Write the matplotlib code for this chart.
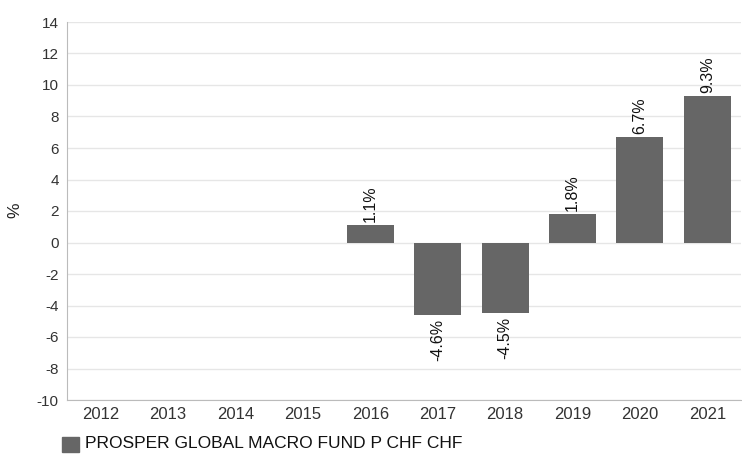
import matplotlib.pyplot as plt
import numpy as np

plt.rcParams['font.family'] = ['Liberation Sans', 'DejaVu Sans']
plt.rcParams['axes.unicode_minus'] = False

years = ['2012', '2013', '2014', '2015', '2016', '2017', '2018', '2019', '2020', '2021']
returns = [np.nan, np.nan, np.nan, np.nan, 1.1, -4.6, -4.5, 1.8, 6.7, 9.3]
series_name = 'PROSPER GLOBAL MACRO FUND P CHF CHF'

fig = plt.figure(figsize=(7.42, 4.54), dpi=100)
ax = fig.add_axes([67 / 742, 1 - 400 / 454, 674 / 742, 378 / 454])

x = np.arange(len(years))
vals = np.array(returns)
ax.bar(x, np.nan_to_num(vals), width=0.7, color='#666666', zorder=3)

# value labels, rotated, just outside the bar end
for xi, v in zip(x, vals):
    if np.isnan(v):
        continue
    ax.annotate(f'{v:.1f}%', (xi, v), xytext=(0, 2.5 if v >= 0 else -2.5),
                textcoords='offset points', rotation=90, ha='center',
                va='bottom' if v >= 0 else 'top', fontsize=11.5, color='#111111')

ax.set_xlim(-0.5, len(years) - 0.5)
ax.set_ylim(-10, 14)
ax.set_yticks(np.arange(-10, 15, 2))
ax.set_xticks(x)
ax.set_xticklabels(years)
ax.tick_params(axis='both', length=0, colors='#333333')
ax.tick_params(axis='x', pad=5, labelsize=12)
ax.tick_params(axis='y', pad=6, labelsize=11)
ax.grid(axis='y', color='#e6e6e6', linewidth=1, zorder=0)
for s in ['top', 'right']:
    ax.spines[s].set_visible(False)
for s in ['left', 'bottom']:
    ax.spines[s].set_color('#bbbbbb')
fig.text(15 / 742, 1 - 210 / 454, '%', rotation=90, fontsize=12.5, color='#222222',
         ha='center', va='center')

fig.patches.append(plt.Rectangle((62 / 742, 1 - 452 / 454), 17 / 742, 15 / 454,
                                 transform=fig.transFigure, color='#666666'))
fig.text(85 / 742, 1 - 444 / 454, series_name, fontsize=12.5, color='#111111', va='center')

fig.savefig('out.png', dpi=100)
